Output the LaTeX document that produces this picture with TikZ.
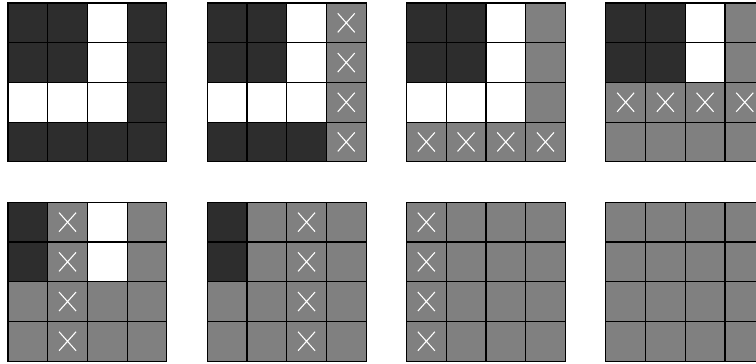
\documentclass[tikz,border=0pt]{standalone}
\begin{document}
\begin{tikzpicture}[x=1pt,y=-1pt,
  cellD/.style={fill={rgb,255:red,45;green,45;blue,45}, draw=black, line width=1.2pt},
  cellW/.style={fill=white, draw=black, line width=1.2pt},
  cellG/.style={fill={rgb,255:red,128;green,128;blue,128}, draw=black, line width=1.2pt},
  cellX/.style={cellG},
  cross/.style={draw=white, line width=1.1pt}]
\useasboundingbox (0,0) rectangle (756,364);
\clip (0,0) rectangle (756,364);
\def\cs{39.7}
\def\XX{X}
\foreach \gx/\gy/\cells in {
  8/3/{D,D,W,D,D,D,W,D,W,W,W,D,D,D,D,D},
  207.3/3/{D,D,W,X,D,D,W,X,W,W,W,X,D,D,D,X},
  406.5/3/{D,D,W,G,D,D,W,G,W,W,W,G,X,X,X,X},
  605.8/3/{D,D,W,G,D,D,W,G,X,X,X,X,G,G,G,G},
  8/202.3/{D,X,W,G,D,X,W,G,G,X,G,G,G,X,G,G},
  207.3/202.3/{D,G,X,G,D,G,X,G,G,G,X,G,G,G,X,G},
  406.5/202.3/{X,G,G,G,X,G,G,G,X,G,G,G,X,G,G,G},
  605.8/202.3/{G,G,G,G,G,G,G,G,G,G,G,G,G,G,G,G}}{
  \foreach \t [count=\k from 0] in \cells {
    \pgfmathtruncatemacro{\r}{div(\k,4)}
    \pgfmathtruncatemacro{\c}{mod(\k,4)}
    \pgfmathsetmacro{\xa}{\gx+\c*\cs}
    \pgfmathsetmacro{\ya}{\gy+\r*\cs}
    \path[cell\t] (\xa,\ya) rectangle ++(\cs,\cs);
    \ifx\t\XX
      \draw[cross] (\xa+\cs/2-8.5,\ya+\cs/2-9.5) -- ++(17,19)
                   (\xa+\cs/2+8.5,\ya+\cs/2-9.5) -- ++(-17,19);
    \fi
  }
}
\end{tikzpicture}
\end{document}
